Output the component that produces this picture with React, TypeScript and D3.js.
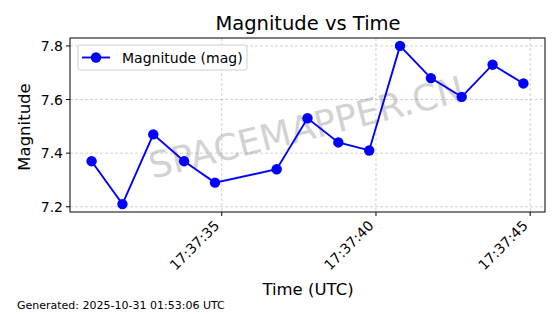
import React from "react";
import * as d3 from "d3";

const seconds = [30.78, 31.78, 32.78, 33.78, 34.78, 36.78, 37.78, 38.78, 39.78, 40.78, 41.78, 42.78, 43.78, 44.78];
const magnitudes = [7.37, 7.21, 7.47, 7.37, 7.29, 7.34, 7.53, 7.44, 7.41, 7.80, 7.68, 7.61, 7.73, 7.66];
const xTicks = [35, 40, 45];
const xTickLabels = ["17:37:35", "17:37:40", "17:37:45"];
const yTicks = [7.2, 7.4, 7.6, 7.8];

const W = 560, H = 314;
const L = 70, R = 545, T = 38, B = 212;
const FONT = "DejaVu Sans, sans-serif";

export default function App() {
  const xMin = d3.min(seconds)!, xMax = d3.max(seconds)!;
  const xPad = (xMax - xMin) * 0.05;
  const yMin = d3.min(magnitudes)!, yMax = d3.max(magnitudes)!;
  const yPad = (yMax - yMin) * 0.05;
  const x = d3.scaleLinear().domain([xMin - xPad, xMax + xPad]).range([L, R]);
  const y = d3.scaleLinear().domain([yMin - yPad, yMax + yPad]).range([B, T]);
  const pts = seconds.map((s, i) => [s, magnitudes[i]] as [number, number]);
  const line = d3.line<[number, number]>().x(d => x(d[0])).y(d => y(d[1]))(pts)!;

  return (
    <svg width={W} height={H} style={{ position: "absolute", left: 0, top: 0 }} fontFamily={FONT}>
      <rect width={W} height={H} fill="#fff" />
      <text x={308} y={30} textAnchor="middle" fontSize={19.5}>Magnitude vs Time</text>
      {xTicks.map(t => (
        <line key={"gx" + t} x1={x(t)} x2={x(t)} y1={T} y2={B} stroke="#b0b0b0" strokeWidth={0.8} strokeDasharray="3,2" opacity={0.7} />
      ))}
      {yTicks.map(t => (
        <line key={"gy" + t} x1={L} x2={R} y1={y(t)} y2={y(t)} stroke="#b0b0b0" strokeWidth={0.8} strokeDasharray="3,2" opacity={0.7} />
      ))}
      <text x={0} y={0} transform={`translate(307,130) rotate(-14)`} textAnchor="middle" dominantBaseline="middle" fontSize={36} fill="#808080" opacity={0.35}>SPACEMAPPER.CN</text>
      <path d={line} fill="none" stroke="#0000ff" strokeWidth={1.9} />
      {pts.map((d, i) => (
        <circle key={i} cx={x(d[0])} cy={y(d[1])} r={5.2} fill="#0000ff" />
      ))}
      <rect x={L} y={T} width={R - L} height={B - T} fill="none" stroke="#000" strokeWidth={1} />
      {yTicks.map(t => (
        <g key={"yt" + t}>
          <line x1={L - 4} x2={L} y1={y(t)} y2={y(t)} stroke="#000" />
          <text x={L - 7} y={y(t)} textAnchor="end" dominantBaseline="central" fontSize={14}>{t.toFixed(1)}</text>
        </g>
      ))}
      {xTicks.map((t, i) => (
        <g key={"xt" + t}>
          <line x1={x(t)} x2={x(t)} y1={B} y2={B + 4} stroke="#000" />
          <text x={0} y={0} transform={`translate(${x(t) - 5},${B + 11}) rotate(-45)`} textAnchor="end" dominantBaseline="central" fontSize={14}>{xTickLabels[i]}</text>
        </g>
      ))}
      <text x={0} y={0} transform="translate(30,127) rotate(-90)" textAnchor="middle" fontSize={16.5}>Magnitude</text>
      <text x={308} y={295} textAnchor="middle" fontSize={16.5}>Time (UTC)</text>
      <g>
        <rect x={78} y={45} width={169} height={25} rx={2} fill="#fff" fillOpacity={0.8} stroke="#d0d0d0" />
        <line x1={82} x2={110} y1={57.5} y2={57.5} stroke="#0000ff" strokeWidth={1.9} />
        <circle cx={96} cy={57.5} r={5.2} fill="#0000ff" />
        <text x={122} y={57.5} dominantBaseline="central" fontSize={14}>Magnitude (mag)</text>
      </g>
      <text x={17} y={309} fontSize={11}>Generated: 2025-10-31 01:53:06 UTC</text>
    </svg>
  );
}
